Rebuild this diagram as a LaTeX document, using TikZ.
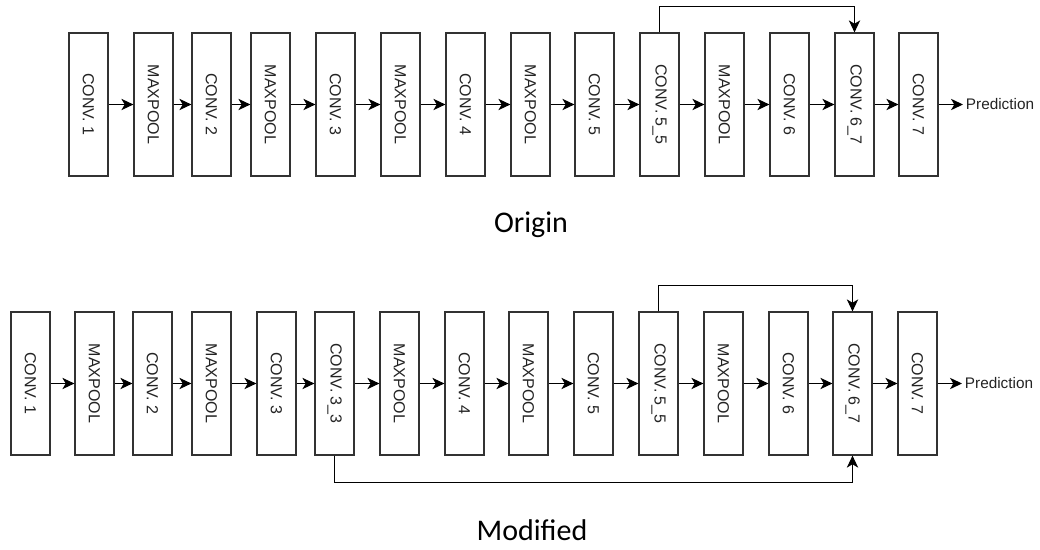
\documentclass[tikz,border=0pt]{standalone}
\usepackage{graphicx}
\usepackage{xcolor}
\usepackage{fontspec}
\setmainfont{Liberation Sans}
\newfontfamily\captionfamily{Carlito}
\usepackage{tikz}
\usetikzlibrary{arrows.meta, positioning}
\definecolor{layerDark}{RGB}{35,35,35}
\definecolor{layerLine}{RGB}{50,50,50}

\begin{document}
\begin{tikzpicture}[
    x=0.75pt, y=-0.75pt,
    layerbox/.style={rectangle, draw=layerLine, line width=0.9pt, fill=white,
    minimum width=29.25pt, minimum height=107.25pt, inner sep=0pt,
    text=layerDark, font=\fontsize{12}{14}\selectfont},
    predlabel/.style={anchor=west, inner sep=2pt, text=layerDark,
    font=\fontsize{11.5}{13}\selectfont},
    caption/.style={text=black, font=\captionfamily\fontsize{22.5}{27}\selectfont},
    arrow/.style={-{Stealth[length=9pt, width=8.5pt, inset=2.5pt]}, line width=0.9pt, color=black}
]
\useasboundingbox (0,0) rectangle (1040,550);

% Origin network
\node[layerbox] (oc1)  at (88.5,104.5)  {\rotatebox{-90}{CONV. 1}};
\node[layerbox] (omp1) at (153.5,104.5) {\rotatebox{-90}{MAXPOOL}};
\node[layerbox] (oc2)  at (211.5,104.5) {\rotatebox{-90}{CONV. 2}};
\node[layerbox] (omp2) at (270.5,104.5) {\rotatebox{-90}{MAXPOOL}};
\node[layerbox] (oc3)  at (335.5,104.5) {\rotatebox{-90}{CONV. 3}};
\node[layerbox] (omp3) at (400.5,104.5) {\rotatebox{-90}{MAXPOOL}};
\node[layerbox] (oc4)  at (465.5,104.5) {\rotatebox{-90}{CONV. 4}};
\node[layerbox] (omp4) at (530.5,104.5) {\rotatebox{-90}{MAXPOOL}};
\node[layerbox] (oc5)  at (594.5,104.5) {\rotatebox{-90}{CONV. 5}};
\node[layerbox] (oc55) at (659.5,104.5) {\rotatebox{-90}{CONV. 5\_5}};
\node[layerbox] (omp5) at (724.5,104.5) {\rotatebox{-90}{MAXPOOL}};
\node[layerbox] (oc6)  at (789.5,104.5) {\rotatebox{-90}{CONV. 6}};
\node[layerbox] (oc67) at (854.5,104.5) {\rotatebox{-90}{CONV. 6\_7}};
\node[layerbox] (oc7)  at (918.5,104.5) {\rotatebox{-90}{CONV. 7}};
\node[predlabel] (opred) at (963,104.5) {Prediction};
\node[caption] (origin) at (531,225) {Origin};

\draw[arrow] (oc1) -- (omp1);
\draw[arrow] (omp1) -- (oc2);
\draw[arrow] (oc2) -- (omp2);
\draw[arrow] (omp2) -- (oc3);
\draw[arrow] (oc3) -- (omp3);
\draw[arrow] (omp3) -- (oc4);
\draw[arrow] (oc4) -- (omp4);
\draw[arrow] (omp4) -- (oc5);
\draw[arrow] (oc5) -- (oc55);
\draw[arrow] (oc55) -- (omp5);
\draw[arrow] (omp5) -- (oc6);
\draw[arrow] (oc6) -- (oc67);
\draw[arrow] (oc67) -- (oc7);
\draw[arrow] (oc7) -- (opred);
\draw[arrow] (oc55.north) -- ++(0,-26) -| (oc67.north);

% Modified network
\node[layerbox] (mc1)  at (30.5,383.5)  {\rotatebox{-90}{CONV. 1}};
\node[layerbox] (mmp1) at (94.5,383.5)  {\rotatebox{-90}{MAXPOOL}};
\node[layerbox] (mc2)  at (152.5,383.5) {\rotatebox{-90}{CONV. 2}};
\node[layerbox] (mmp2) at (211.5,383.5) {\rotatebox{-90}{MAXPOOL}};
\node[layerbox] (mc3)  at (276.5,383.5) {\rotatebox{-90}{CONV. 3}};
\node[layerbox] (mc33) at (334.5,383.5) {\rotatebox{-90}{CONV. 3\_3}};
\node[layerbox] (mmp3) at (399.5,383.5) {\rotatebox{-90}{MAXPOOL}};
\node[layerbox] (mc4)  at (464.5,383.5) {\rotatebox{-90}{CONV. 4}};
\node[layerbox] (mmp4) at (528.5,383.5) {\rotatebox{-90}{MAXPOOL}};
\node[layerbox] (mc5)  at (593.5,383.5) {\rotatebox{-90}{CONV. 5}};
\node[layerbox] (mc55) at (658.5,383.5) {\rotatebox{-90}{CONV. 5\_5}};
\node[layerbox] (mmp5) at (723.5,383.5) {\rotatebox{-90}{MAXPOOL}};
\node[layerbox] (mc6)  at (788.5,383.5) {\rotatebox{-90}{CONV. 6}};
\node[layerbox] (mc67) at (852.5,383.5) {\rotatebox{-90}{CONV. 6\_7}};
\node[layerbox] (mc7)  at (917.5,383.5) {\rotatebox{-90}{CONV. 7}};
\node[predlabel] (mpred) at (962,383.5) {Prediction};
\node[caption] (modified) at (532,530) {Modified};

\draw[arrow] (mc1) -- (mmp1);
\draw[arrow] (mmp1) -- (mc2);
\draw[arrow] (mc2) -- (mmp2);
\draw[arrow] (mmp2) -- (mc3);
\draw[arrow] (mc3) -- (mc33);
\draw[arrow] (mc33) -- (mmp3);
\draw[arrow] (mmp3) -- (mc4);
\draw[arrow] (mc4) -- (mmp4);
\draw[arrow] (mmp4) -- (mc5);
\draw[arrow] (mc5) -- (mc55);
\draw[arrow] (mc55) -- (mmp5);
\draw[arrow] (mmp5) -- (mc6);
\draw[arrow] (mc6) -- (mc67);
\draw[arrow] (mc67) -- (mc7);
\draw[arrow] (mc7) -- (mpred);
\draw[arrow] (mc55.north) -- ++(0,-26) -| (mc67.north);
\draw[arrow] (mc33.south) -- ++(0,27) -| (mc67.south);
\end{tikzpicture}
\end{document}
